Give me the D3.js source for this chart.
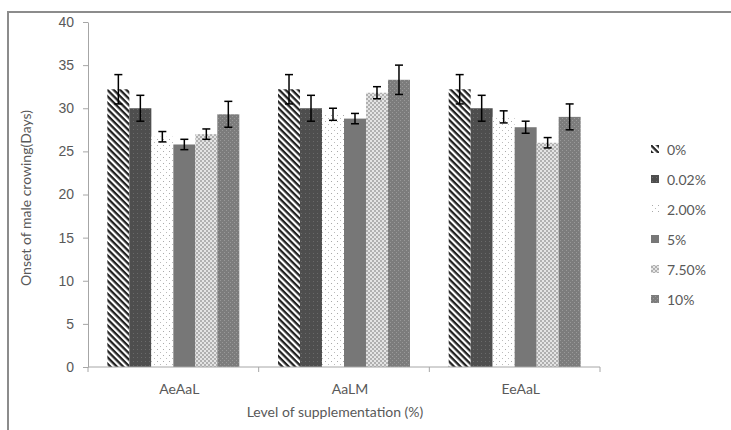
<!DOCTYPE html>
<html>
<head>
<meta charset="utf-8">
<script src="https://cdn.jsdelivr.net/npm/d3@7"></script>
<style>
  body { margin: 0; background: #fff; }
  svg { display: block; font-family: Lato, "Liberation Sans", sans-serif; }
  .axis path, .axis line { stroke: #a6a6a6; }
  .axis text { fill: #595959; font-size: 14px; }
</style>
</head>
<body>
<svg id="chart" width="731" height="430"></svg>
<script>
// Data
const categories = ["AeAaL", "AaLM", "EeAaL"];
const levels = ["0%", "0.02%", "2.00%", "5%", "7.50%", "10%"];
const onsetAeAaL = [32.2, 30.0, 26.7, 25.8, 27.0, 29.3];
const onsetAaLM  = [32.2, 30.0, 29.3, 28.8, 31.8, 33.3];
const onsetEeAaL = [32.2, 30.0, 29.0, 27.8, 26.0, 29.0];
const errAeAaL = [1.7, 1.5, 0.6, 0.6, 0.6, 1.5];
const errAaLM  = [1.7, 1.5, 0.7, 0.6, 0.7, 1.7];
const errEeAaL = [1.7, 1.5, 0.7, 0.7, 0.6, 1.5];
const yTicks = [0, 5, 10, 15, 20, 25, 30, 35, 40];

// Build flat rows
let values = [onsetAeAaL, onsetAaLM, onsetEeAaL];
let errors = [errAeAaL, errAaLM, errEeAaL];
let rows = [];
categories.forEach((c, i) => {
  levels.forEach((l, j) => {
    rows.push({cat: c, level: l, idx: j, value: values[i][j], err: errors[i][j]});
  });
});

const svg = d3.select("#chart");
const plot = {left: 88, right: 600, top: 22, bottom: 367};

// Outer chart border (top and left visible)
svg.append("path")
    .attr("d", "M8,430 L8,12 L731,12")
    .attr("fill", "none")
    .attr("stroke", "#8c8c8c")
    .attr("stroke-width", 2);

// Patterns
const defs = svg.append("defs");
// 0% : diagonal hatch, stripes running down to the right
let p0 = defs.append("pattern").attr("id", "p0")
    .attr("patternUnits", "userSpaceOnUse").attr("width", 4.5).attr("height", 4.5)
    .attr("patternTransform", "rotate(45)");
p0.append("rect").attr("width", 4.5).attr("height", 4.5).attr("fill", "#fff");
p0.append("rect").attr("width", 4.5).attr("height", 2.3).attr("fill", "#222");
// 0.02% : dark dotted
let p1 = defs.append("pattern").attr("id", "p1")
    .attr("patternUnits", "userSpaceOnUse").attr("width", 4).attr("height", 4);
p1.append("rect").attr("width", 4).attr("height", 4).attr("fill", "#4e4e4e");
p1.append("rect").attr("x", 1).attr("y", 1).attr("width", 1).attr("height", 1).attr("fill", "#6a6a6a");
// 2.00% : sparse dots on white
let p2 = defs.append("pattern").attr("id", "p2")
    .attr("patternUnits", "userSpaceOnUse").attr("width", 6).attr("height", 6);
p2.append("rect").attr("width", 6).attr("height", 6).attr("fill", "#fff");
p2.append("rect").attr("x", 1).attr("y", 1).attr("width", 1).attr("height", 1).attr("fill", "#aaa");
p2.append("rect").attr("x", 4).attr("y", 4).attr("width", 1).attr("height", 1).attr("fill", "#bbb");
// 5% : solid mid gray
let p3 = defs.append("pattern").attr("id", "p3")
    .attr("patternUnits", "userSpaceOnUse").attr("width", 4).attr("height", 4);
p3.append("rect").attr("width", 4).attr("height", 4).attr("fill", "#777");
// 7.50% : light checker
let p4 = defs.append("pattern").attr("id", "p4")
    .attr("patternUnits", "userSpaceOnUse").attr("width", 4).attr("height", 4);
p4.append("rect").attr("width", 4).attr("height", 4).attr("fill", "#e4e4e4");
p4.append("rect").attr("width", 2).attr("height", 2).attr("fill", "#b0b0b0");
p4.append("rect").attr("x", 2).attr("y", 2).attr("width", 2).attr("height", 2).attr("fill", "#b0b0b0");
// 10% : gray with texture
let p5 = defs.append("pattern").attr("id", "p5")
    .attr("patternUnits", "userSpaceOnUse").attr("width", 4).attr("height", 4);
p5.append("rect").attr("width", 4).attr("height", 4).attr("fill", "#7c7c7c");
p5.append("rect").attr("x", 0).attr("y", 0).attr("width", 1).attr("height", 1).attr("fill", "#999");
p5.append("rect").attr("x", 2).attr("y", 2).attr("width", 1).attr("height", 1).attr("fill", "#999");

const fills = levels.map((l, i) => "url(#p" + i + ")");

// Scales
const x0 = d3.scaleBand().domain(categories).range([plot.left, plot.right]);
const x1 = d3.scaleBand().domain(levels).range([0, x0.bandwidth()])
    .paddingInner(0).paddingOuter(0.88);
const y = d3.scaleLinear().domain([0, 40]).range([plot.bottom, plot.top]);

// Y axis
svg.append("g").attr("class", "axis")
    .attr("transform", "translate(" + plot.left + ",0)")
    .call(d3.axisLeft(y).tickValues(yTicks).tickSize(5).tickSizeOuter(0).tickPadding(9));

// Bars
svg.append("g").selectAll("rect")
    .data(rows).enter()
    .append("rect")
        .attr("x", d => x0(d.cat) + x1(d.level))
        .attr("y", d => y(d.value))
        .attr("width", x1.bandwidth())
        .attr("height", d => y(0) - y(d.value))
        .attr("fill", d => fills[d.idx]);

// X axis: line with ticks between categories
let xa = svg.append("g").attr("class", "axis");
xa.append("line")
    .attr("x1", plot.left).attr("x2", plot.right)
    .attr("y1", plot.bottom).attr("y2", plot.bottom);
xa.selectAll(".tk")
    .data(categories.map(c => x0(c)).concat([plot.right]))
    .enter().append("line")
        .attr("x1", d => d).attr("x2", d => d)
        .attr("y1", plot.bottom).attr("y2", plot.bottom + 5);
xa.selectAll("text")
    .data(categories).enter()
    .append("text")
        .attr("x", d => x0(d) + x0.bandwidth() / 2 + 6)
        .attr("y", 394)
        .attr("text-anchor", "middle")
        .text(d => d);

// Error bars
let eb = svg.append("g").attr("stroke", "#000").attr("stroke-width", 1.5);
rows.forEach(d => {
  let cx = x0(d.cat) + x1(d.level) + x1.bandwidth() / 2;
  eb.append("line").attr("x1", cx).attr("x2", cx)
      .attr("y1", y(d.value + d.err)).attr("y2", y(d.value - d.err));
  eb.append("line").attr("x1", cx - 4).attr("x2", cx + 4)
      .attr("y1", y(d.value + d.err)).attr("y2", y(d.value + d.err));
  eb.append("line").attr("x1", cx - 4).attr("x2", cx + 4)
      .attr("y1", y(d.value - d.err)).attr("y2", y(d.value - d.err));
});

// Axis titles
svg.append("text")
    .attr("transform", "translate(31,198) rotate(-90)")
    .attr("text-anchor", "middle")
    .attr("fill", "#595959")
    .style("font-size", "14px")
    .text("Onset of male crowing(Days)");
svg.append("text")
    .attr("x", 335).attr("y", 417)
    .attr("text-anchor", "middle")
    .attr("fill", "#595959")
    .style("font-size", "14px")
    .text("Level of supplementation (%)");

// Legend
let lg = svg.append("g").attr("transform", "translate(651,150)");
let item = lg.selectAll("g")
    .data(levels).enter()
    .append("g")
        .attr("transform", (d, i) => "translate(0," + (i * 30) + ")");
item.append("rect")
    .attr("y", -5).attr("width", 8).attr("height", 8)
    .attr("fill", (d, i) => fills[i]);
item.append("text")
    .attr("x", 16).attr("y", 0)
    .attr("dy", "0.35em")
    .attr("fill", "#595959")
    .style("font-size", "14px")
    .text(d => d);
</script>
</body>
</html>
